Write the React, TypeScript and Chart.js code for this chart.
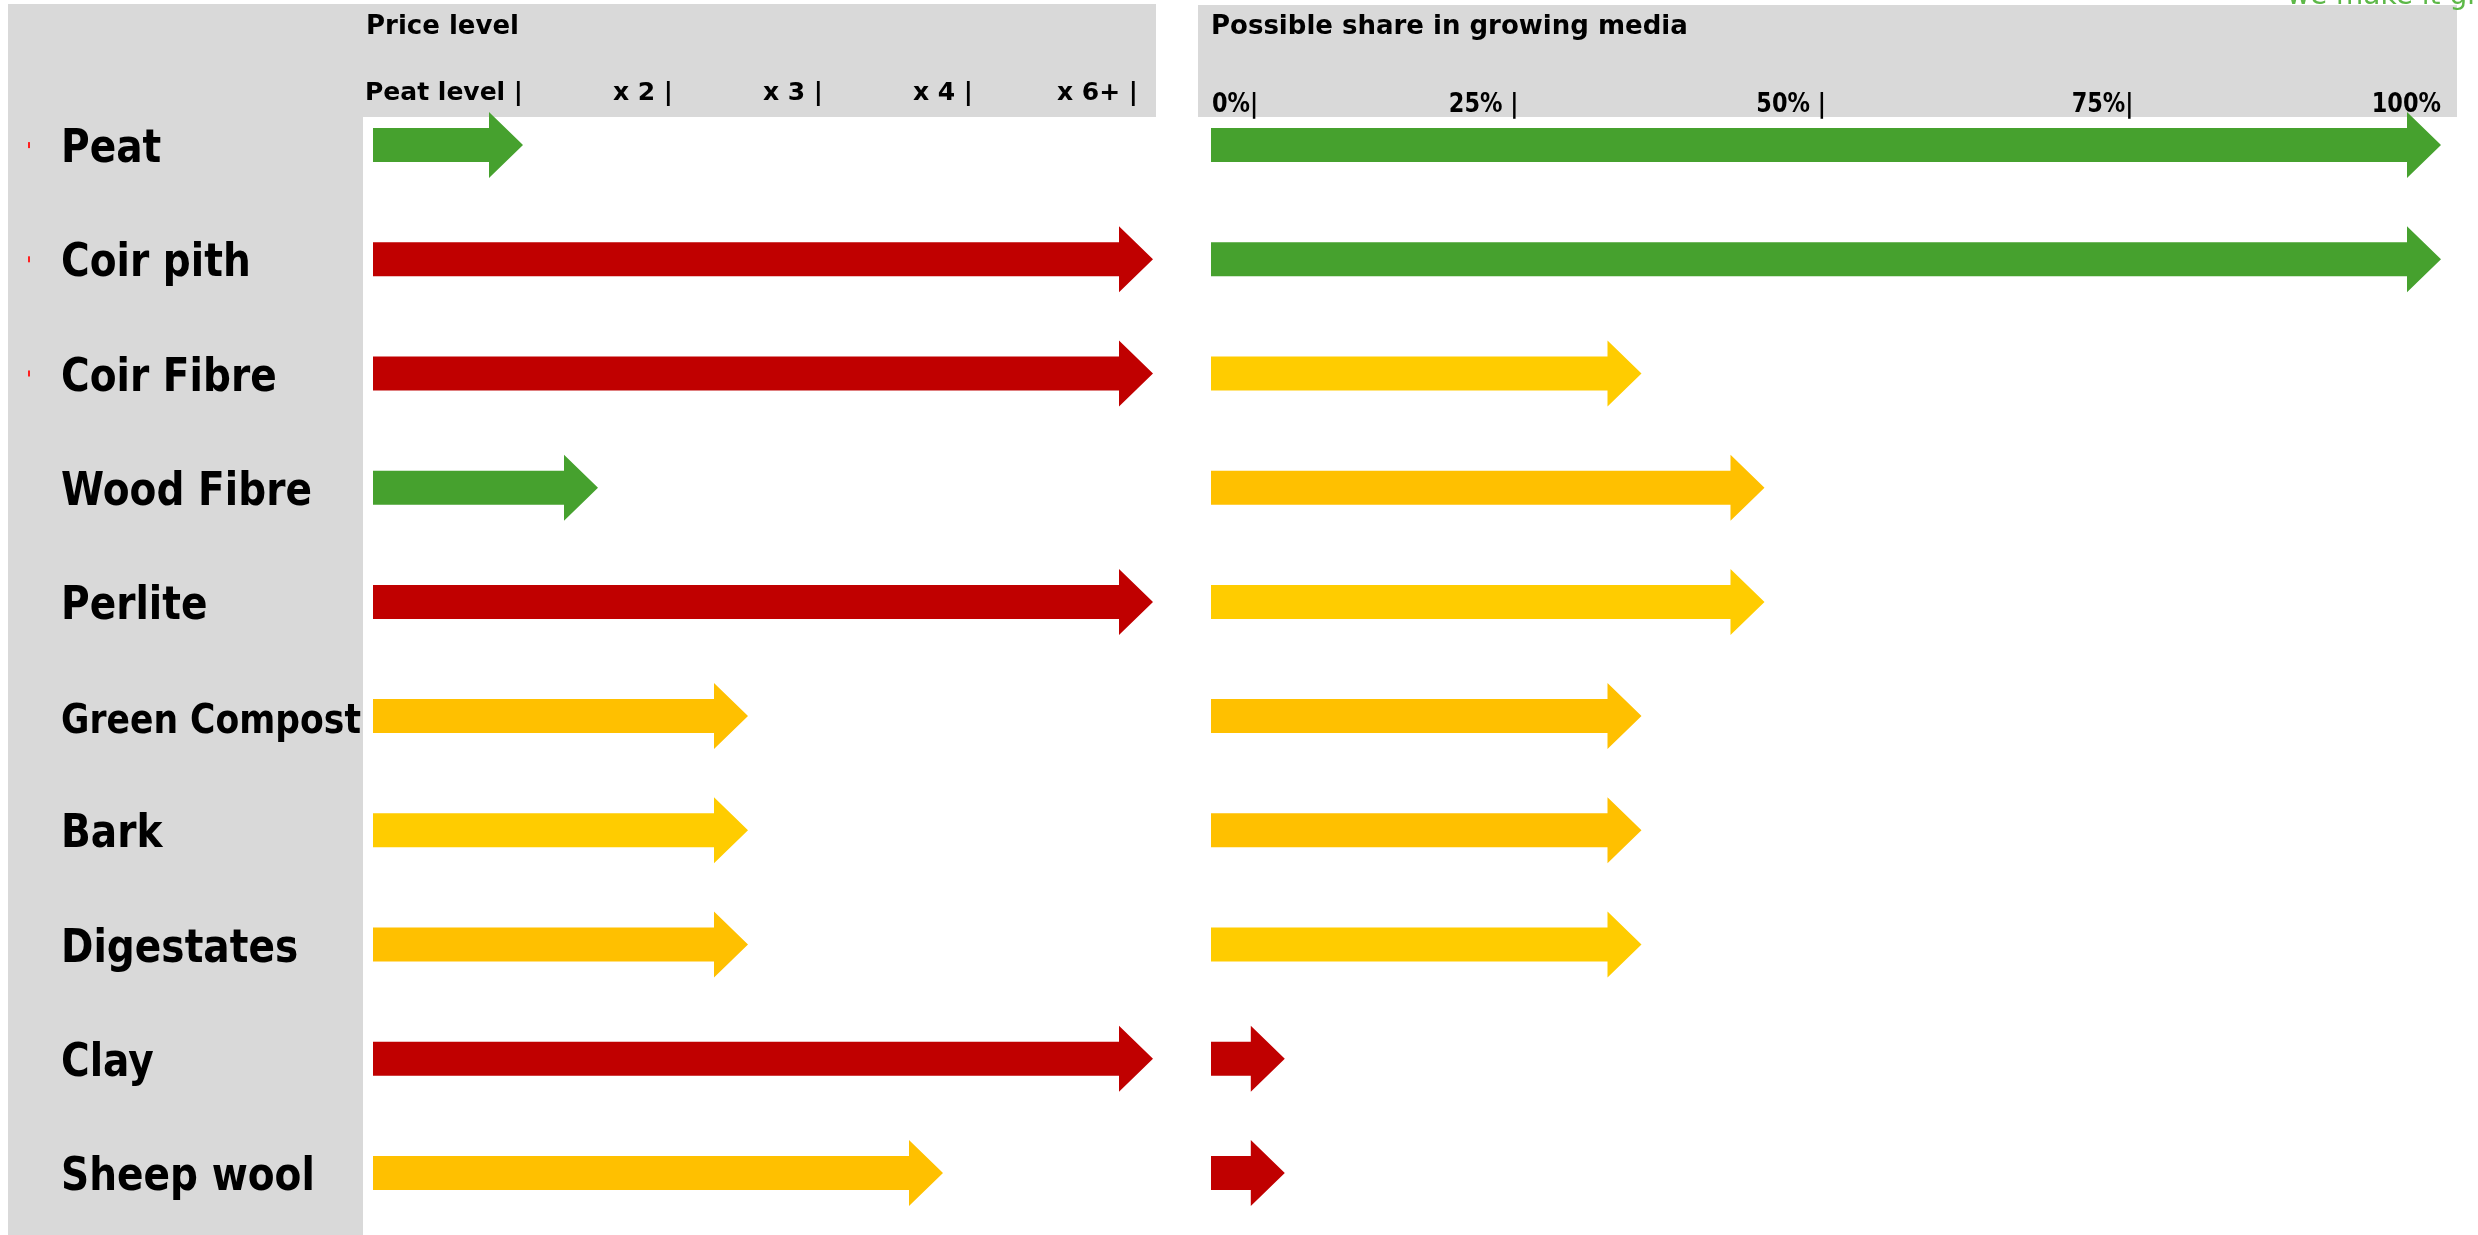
import { useEffect, useRef } from 'react';
import { Chart, registerables } from 'chart.js';

Chart.register(...registerables);

// ---- data -------------------------------------------------------------

const materials = [
  'Peat',
  'Coir pith',
  'Coir Fibre',
  'Wood Fibre',
  'Perlite',
  'Green Compost',
  'Bark',
  'Digestates',
  'Clay',
  'Sheep wool',
];

// Price relative to peat (1 = peat level, 5.2 = "x 6+" and beyond)
const priceLevel = [1.0, 5.2, 5.2, 1.5, 5.2, 2.5, 2.5, 2.5, 5.2, 3.8];
const priceRating = ['good', 'poor', 'poor', 'good', 'poor', 'moderate', 'fair', 'moderate', 'poor', 'moderate'];

// Possible share in growing media, percent
const shareInMedia = [100, 100, 35, 45, 45, 35, 35, 35, 6, 6];
const shareRating = ['good', 'good', 'fair', 'moderate', 'fair', 'moderate', 'moderate', 'fair', 'poor', 'poor'];

const priceTickValues = [1, 2, 3, 4, 5.1];
const priceTickLabels = ['Peat level |', 'x 2 |', 'x 3 |', 'x 4 |', 'x 6+ |'];

const shareTickValues = [0, 25, 50, 75, 100];
const shareTickLabels = ['0%|', '25% |', '50% |', '75%|', '100%'];

const bulletedMaterials = ['Peat', 'Coir pith', 'Coir Fibre'];

// ---- styling ----------------------------------------------------------

const PAGE_W = 2478;
const PAGE_H = 1235;
const SPLIT_X = 1180;

const FONT = '"DejaVu Sans", "Verdana", sans-serif';
const PANEL_GRAY = '#D9D9D9';
const RATING_COLORS: Record<string, string> = {
  good: '#46A12E',
  fair: '#FFCC00',
  moderate: '#FFC000',
  poor: '#C00000',
};

const ARROW = { headHeight: 66, shaft: 34, headLength: 34 };

// ---- drawing helpers --------------------------------------------------

function drawArrow(ctx: CanvasRenderingContext2D, x0: number, x1: number, yc: number, color: string) {
  const head = Math.min(ARROW.headLength, x1 - x0);
  const hs = ARROW.shaft / 2;
  const hh = ARROW.headHeight / 2;
  ctx.beginPath();
  ctx.moveTo(x0, yc - hs);
  ctx.lineTo(x1 - head, yc - hs);
  ctx.lineTo(x1 - head, yc - hh);
  ctx.lineTo(x1, yc);
  ctx.lineTo(x1 - head, yc + hh);
  ctx.lineTo(x1 - head, yc + hs);
  ctx.lineTo(x0, yc + hs);
  ctx.closePath();
  ctx.fillStyle = color;
  ctx.fill();
}

function drawText(
  ctx: CanvasRenderingContext2D,
  text: string,
  x: number,
  y: number,
  size: number,
  opts: { align?: CanvasTextAlign; squeeze?: number; maxWidth?: number; color?: string; weight?: string } = {}
) {
  const squeeze = opts.squeeze ?? 1;
  let px = size;
  ctx.save();
  ctx.font = `${opts.weight ?? 'bold'} ${px}px ${FONT}`;
  if (opts.maxWidth) {
    const w = ctx.measureText(text).width * squeeze;
    if (w > opts.maxWidth) {
      px = (size * opts.maxWidth) / w;
      ctx.font = `${opts.weight ?? 'bold'} ${px}px ${FONT}`;
    }
  }
  ctx.fillStyle = opts.color ?? '#000000';
  ctx.textAlign = opts.align ?? 'left';
  ctx.textBaseline = 'alphabetic';
  ctx.translate(x, y);
  ctx.scale(squeeze, 1);
  ctx.fillText(text, 0, 0);
  ctx.restore();
}

// Replaces the rectangular bars with block arrows running from the base to the value.
const arrowBars = {
  id: 'arrowBars',
  beforeDatasetDraw() {
    return false;
  },
  afterDatasetsDraw(chart: any) {
    const { ctx } = chart;
    const meta = chart.getDatasetMeta(0);
    const colors = chart.data.datasets[0].backgroundColor as string[];
    ctx.save();
    meta.data.forEach((bar: any, i: number) => {
      const { x, y, base } = bar.getProps(['x', 'y', 'base'], true);
      drawArrow(ctx, base, x, y, colors[i]);
    });
    ctx.restore();
  },
};

// Left half: label column, "Price level" header band and its scale marks.
const priceFrame = {
  id: 'priceFrame',
  beforeDraw(chart: any) {
    const { ctx } = chart;
    ctx.save();
    ctx.fillStyle = PANEL_GRAY;
    ctx.fillRect(8, 4, 355, chart.height - 4);
    ctx.fillRect(363, 4, 793, 113);
    ctx.restore();
  },
  afterDraw(chart: any) {
    const { ctx } = chart;
    const xs = chart.scales.x;
    const ys = chart.scales.y;
    drawText(ctx, 'Price level', 366, 34, 26);
    priceTickLabels.forEach((label, i) => {
      drawText(ctx, label, xs.getPixelForValue(priceTickValues[i]), 100, 25, { align: 'right' });
    });
    materials.forEach((name, i) => {
      const yc = ys.getPixelForValue(i);
      drawText(ctx, name, 61, yc + 17, 46, { squeeze: 0.85, maxWidth: 300 });
      if (bulletedMaterials.includes(name)) {
        ctx.save();
        ctx.fillStyle = '#FF2020';
        ctx.fillRect(28, yc - 3, 2, 6);
        ctx.restore();
      }
    });
  },
};

// Right half: "Possible share in growing media" header band and percent marks.
const shareFrame = {
  id: 'shareFrame',
  beforeDraw(chart: any) {
    const { ctx } = chart;
    ctx.save();
    ctx.fillStyle = PANEL_GRAY;
    ctx.fillRect(18, 5, 1259, 112);
    ctx.restore();
    drawText(ctx, 'we make it grow', 1107, 4, 28, { weight: 'normal', color: '#5DB848' });
  },
  afterDraw(chart: any) {
    const { ctx } = chart;
    const xs = chart.scales.x;
    drawText(ctx, 'Possible share in growing media', chart.chartArea.left, 34, 26);
    shareTickLabels.forEach((label, i) => {
      const v = shareTickValues[i];
      const px = xs.getPixelForValue(v);
      const atStart = v === xs.min;
      drawText(ctx, label, atStart ? px + 1 : px, 112, 27, {
        align: atStart ? 'left' : 'right',
        squeeze: 0.83,
      });
    });
  },
};

// ---- chart panel ------------------------------------------------------

type PanelProps = {
  left: number;
  width: number;
  values: number[];
  ratings: string[];
  max: number;
  padding: { left: number; right: number; top: number; bottom: number };
  frame: any;
};

function ArrowPanel({ left, width, values, ratings, max, padding, frame }: PanelProps) {
  const ref = useRef<HTMLCanvasElement>(null);

  useEffect(() => {
    if (!ref.current) return;
    const chart = new Chart(ref.current, {
      type: 'bar',
      data: {
        labels: materials,
        datasets: [
          {
            data: values,
            backgroundColor: ratings.map((r) => RATING_COLORS[r]),
            borderWidth: 0,
            barThickness: ARROW.headHeight,
          },
        ],
      },
      options: {
        indexAxis: 'y',
        animation: false,
        responsive: false,
        events: [],
        layout: { padding },
        plugins: { legend: { display: false }, tooltip: { enabled: false } },
        scales: {
          x: { type: 'linear', min: 0, max, display: false },
          y: { type: 'category', display: false },
        },
      },
      plugins: [frame, arrowBars],
    });
    return () => chart.destroy();
  }, []);

  return (
    <canvas
      ref={ref}
      width={width}
      height={PAGE_H}
      style={{ position: 'absolute', left, top: 0, width, height: PAGE_H, display: 'block' }}
    />
  );
}

export default function App() {
  return (
    <div
      style={{
        position: 'absolute',
        left: 0,
        top: 0,
        width: PAGE_W,
        height: PAGE_H,
        background: '#FFFFFF',
        overflow: 'hidden',
      }}
    >
      <ArrowPanel
        left={0}
        width={SPLIT_X}
        values={priceLevel}
        ratings={priceRating}
        max={5.2}
        padding={{ left: 373, right: SPLIT_X - 1153, top: 88, bottom: 5 }}
        frame={priceFrame}
      />
      <ArrowPanel
        left={SPLIT_X}
        width={PAGE_W - SPLIT_X}
        values={shareInMedia}
        ratings={shareRating}
        max={100}
        padding={{ left: 1211 - SPLIT_X, right: PAGE_W - 2441, top: 88, bottom: 5 }}
        frame={shareFrame}
      />
    </div>
  );
}
